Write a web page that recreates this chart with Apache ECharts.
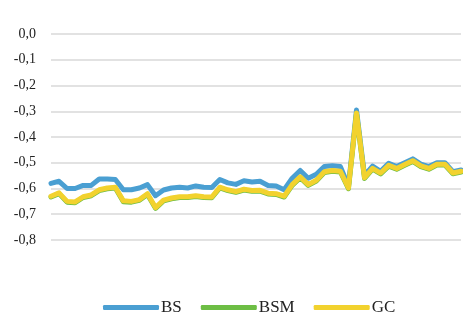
<!DOCTYPE html>
<html>
<head>
<meta charset="utf-8">
<script src="https://cdn.jsdelivr.net/npm/echarts@6/dist/echarts.min.js"></script>
<style>
html,body{margin:0;padding:0;background:#fff;}
#chart{width:463px;height:320px;}
</style>
</head>
<body>
<div id="chart"></div>
<script>
const categories = ['1','2','3','4','5','6','7','8','9','10','11','12','13','14','15','16','17','18','19','20','21','22','23','24','25','26','27','28','29','30','31','32','33','34','35','36','37','38','39','40','41','42','43','44','45','46','47','48','49','50','51','52'];
const seriesNames = ['BS', 'BSM', 'GC'];
const bsValues = [-0.580, -0.572, -0.600, -0.600, -0.588, -0.588, -0.563, -0.563, -0.565, -0.605, -0.605, -0.598, -0.585, -0.628, -0.606, -0.598, -0.595, -0.598, -0.590, -0.595, -0.596, -0.565, -0.578, -0.584, -0.570, -0.575, -0.572, -0.588, -0.590, -0.605, -0.560, -0.530, -0.560, -0.545, -0.515, -0.512, -0.515, -0.590, -0.295, -0.550, -0.513, -0.533, -0.502, -0.515, -0.500, -0.485, -0.505, -0.515, -0.500, -0.500, -0.535, -0.528];
const bsmValues = [-0.633, -0.620, -0.653, -0.655, -0.635, -0.628, -0.608, -0.601, -0.598, -0.651, -0.653, -0.646, -0.623, -0.677, -0.648, -0.640, -0.635, -0.635, -0.631, -0.635, -0.636, -0.598, -0.608, -0.615, -0.606, -0.611, -0.610, -0.621, -0.623, -0.633, -0.588, -0.558, -0.588, -0.571, -0.538, -0.533, -0.536, -0.601, -0.310, -0.561, -0.525, -0.543, -0.513, -0.525, -0.510, -0.495, -0.515, -0.525, -0.509, -0.509, -0.543, -0.536];
const gcValues = [-0.630, -0.617, -0.650, -0.652, -0.632, -0.625, -0.605, -0.598, -0.595, -0.648, -0.650, -0.643, -0.620, -0.674, -0.645, -0.637, -0.632, -0.632, -0.628, -0.632, -0.633, -0.595, -0.605, -0.612, -0.603, -0.608, -0.607, -0.618, -0.620, -0.630, -0.585, -0.555, -0.585, -0.568, -0.535, -0.530, -0.533, -0.598, -0.307, -0.558, -0.522, -0.540, -0.510, -0.522, -0.507, -0.492, -0.512, -0.522, -0.506, -0.506, -0.540, -0.533];
const colors = ['#4a9fd2', '#6dbe45', '#f2d22e'];

const chart = echarts.init(document.getElementById('chart'), null, {renderer: 'canvas'});
const valueSets = [bsValues, bsmValues, gcValues];
chart.setOption({
  animation: false,
  backgroundColor: '#ffffff',
  color: colors,
  grid: {left: 51, right: 2, top: 34, bottom: 80, containLabel: false},
  legend: {
    data: seriesNames,
    left: 98,
    top: 294,
    icon: 'roundRect',
    itemWidth: 56,
    itemHeight: 5,
    itemGap: 19,
    textStyle: {fontFamily: 'Liberation Serif', fontSize: 17, color: '#222', padding: [0, 0, 0, -3]}
  },
  xAxis: {
    type: 'category',
    data: categories,
    boundaryGap: false,
    axisLine: {show: false},
    axisTick: {show: false},
    axisLabel: {show: false},
    splitLine: {show: false}
  },
  yAxis: {
    type: 'value',
    min: -0.8,
    max: 0,
    interval: 0.1,
    axisLine: {show: false},
    axisTick: {show: false},
    axisLabel: {
      margin: 15,
      fontFamily: 'Liberation Serif',
      fontSize: 14,
      color: '#222',
      formatter: function (v) { return (Math.abs(v) < 1e-9 ? 0 : v).toFixed(1).replace('.', ','); }
    },
    splitLine: {lineStyle: {color: '#d9d9d9', width: 1.5}}
  },
  series: seriesNames.map(function (name, i) {
    return {
      name: name,
      type: 'line',
      data: valueSets[i],
      symbol: 'none',
      smooth: false,
      lineStyle: {width: 5, color: colors[i], join: 'round', cap: 'round'},
      itemStyle: {color: colors[i]},
      z: 2 + i
    };
  })
});
</script>
</body>
</html>
